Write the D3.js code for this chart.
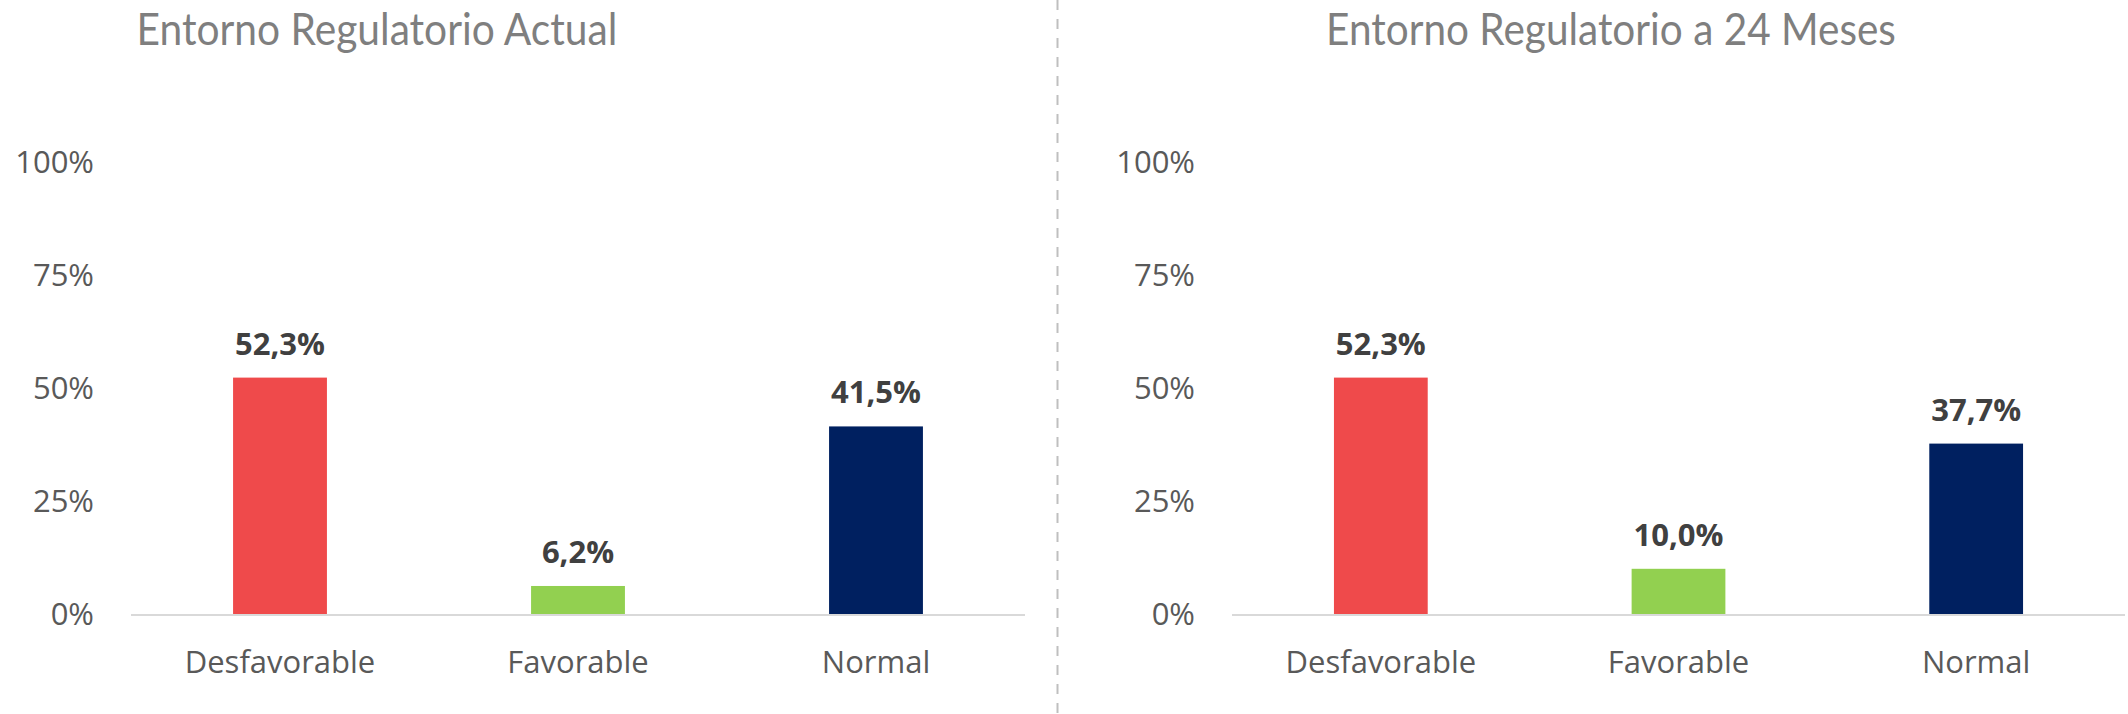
<!DOCTYPE html>
<html>
<head>
<meta charset="utf-8">
<script src="https://cdn.jsdelivr.net/npm/d3@7"></script>
<style>
  html, body { margin: 0; padding: 0; background: #ffffff; }
  svg { display: block; }
</style>
</head>
<body>
<svg id="chart" width="2128" height="714"></svg>
<script>
// ---- Data ----
const categories = ["Desfavorable", "Favorable", "Normal"];
const valuesActual = [52.3, 6.2, 41.5];
const values24 = [52.3, 10.0, 37.7];
const barColors = ["#EF4A4B", "#92D050", "#002060"];
const tickValues = [0, 25, 50, 75, 100];
const tickLabels = ["0%", "25%", "50%", "75%", "100%"];
const titles = ["Entorno Regulatorio Actual", "Entorno Regulatorio a 24 Meses"];

// ---- Layout ----
const svg = d3.select("#chart");
const yTop = 162, yBottom = 614;
const panels = [
  { x0: 131, x1: 1025, title: titles[0], values: valuesActual, titleCx: 377, titleW: 481 },
  { x0: 1232, x1: 2125, title: titles[1], values: values24, titleCx: 1611, titleW: 570 }
];

const y = d3.scaleLinear().domain([0, 100]).range([yBottom, yTop]);
const fmt = v => d3.format(".1f")(v).replace(".", ",") + "%";
const font = "'Open Sans', 'Noto Sans', sans-serif";
const titleFont = "Lato, 'Open Sans', sans-serif";

panels.forEach(p => {
  const g = svg.append("g");
  const x = d3.scaleBand().domain(categories).range([p.x0, p.x1])
    .paddingInner(0.685).paddingOuter(0.3425);

  // Title (horizontally condensed about its centre to match the narrow original face)
  const t = g.append("text")
    .attr("x", p.titleCx)
    .attr("y", 45)
    .attr("text-anchor", "middle")
    .attr("fill", "#7f7f7f")
    .attr("font-family", titleFont)
    .attr("font-size", 45)
    .text(p.title);
  const natural = t.node().getComputedTextLength();
  const sx = p.titleW / natural;
  t.attr("transform", `translate(${p.titleCx * (1 - sx)},0) scale(${sx},1)`);

  // Y axis (labels only)
  const yAxis = d3.axisLeft(y).tickValues(tickValues)
    .tickFormat((d, i) => tickLabels[i]).tickSize(0).tickPadding(0);
  const ya = g.append("g").attr("transform", `translate(${p.x0 - 37},0)`).call(yAxis);
  ya.select(".domain").remove();
  ya.selectAll("text")
    .attr("fill", "#595959")
    .attr("font-family", font)
    .attr("font-size", 31)
    .attr("dy", "0.35em");

  // Bars
  g.selectAll("rect.bar").data(p.values).enter().append("rect")
    .attr("class", "bar")
    .attr("x", (d, i) => x(categories[i]))
    .attr("width", x.bandwidth())
    .attr("y", d => y(d))
    .attr("height", d => y(0) - y(d))
    .attr("fill", (d, i) => barColors[i]);

  // Value labels
  g.selectAll("text.val").data(p.values).enter().append("text")
    .attr("class", "val")
    .attr("x", (d, i) => x(categories[i]) + x.bandwidth() / 2)
    .attr("y", d => y(d) - 23)
    .attr("text-anchor", "middle")
    .attr("fill", "#404040")
    .attr("font-family", font)
    .attr("font-weight", "bold")
    .attr("font-size", 31)
    .text(d => fmt(d));

  // X axis line + category labels
  const xAxis = d3.axisBottom(x).tickSize(0).tickPadding(0);
  const xa = g.append("g").attr("transform", `translate(0,${yBottom + 1})`).call(xAxis);
  xa.select(".domain").attr("stroke", "#d9d9d9").attr("stroke-width", 2)
    .attr("d", `M${p.x0},0H${p.x1}`);
  xa.selectAll("text")
    .attr("fill", "#595959")
    .attr("font-family", font)
    .attr("font-size", 31)
    .attr("dy", 0)
    .attr("y", 58);
});

// Divider
svg.append("line")
  .attr("x1", 1057.5).attr("x2", 1057.5)
  .attr("y1", 0).attr("y2", 714)
  .attr("stroke", "#bfbfbf").attr("stroke-width", 2)
  .attr("stroke-dasharray", "10,9");
</script>
</body>
</html>
